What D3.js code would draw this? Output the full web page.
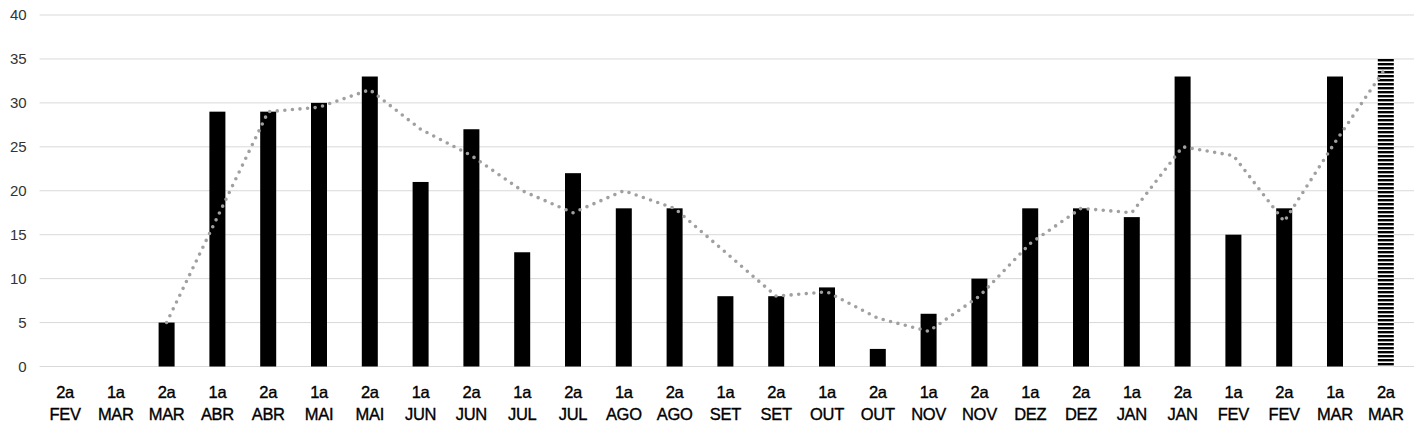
<!DOCTYPE html>
<html>
<head>
<meta charset="utf-8">
<script src="https://cdn.jsdelivr.net/npm/d3@7"></script>
<style>
  body { margin: 0; background: #fff; }
  svg { display: block; }
  .tick text { font-family: "Liberation Sans", Arial, sans-serif; }
</style>
</head>
<body>
<div id="chart"></div>
<script>
const halves = ['2a','1a','2a','1a','2a','1a','2a','1a','2a','1a','2a','1a','2a','1a','2a','1a','2a','1a','2a','1a','2a','1a','2a','1a','2a','1a','2a']
const months = ['FEV','MAR','MAR','ABR','ABR','MAI','MAI','JUN','JUN','JUL','JUL','AGO','AGO','SET','SET','OUT','OUT','NOV','NOV','DEZ','DEZ','JAN','JAN','FEV','FEV','MAR','MAR']
const values = [0,0,5,29,29,30,33,21,27,13,22,18,18,8,8,9,2,6,10,18,18,17,33,15,18,33,35]
const trend = [null,null,5,17,29,29.5,31.5,27,24,20,17.5,20,18,13,8,8.5,5.5,4,8,14,18,17.5,25,24,16.5,25.5,34]
const yTicks = [0,5,10,15,20,25,30,35,40]

const W = 1426, H = 433
const margin = { top: 15, right: 14, bottom: 66.5, left: 39.6 }
const width = W - margin.left - margin.right
const height = H - margin.top - margin.bottom

const svg = d3.select('#chart').append('svg')
    .attr('width', W)
    .attr('height', H)

const defs = svg.append('defs')
const pat = defs.append('pattern')
    .attr('id', 'hstripes')
    .attr('patternUnits', 'userSpaceOnUse')
    .attr('width', 8)
    .attr('height', 4)
pat.append('rect').attr('width', 8).attr('height', 4).attr('fill', '#fff')
pat.append('rect').attr('width', 8).attr('height', 2.4).attr('fill', '#000')

const g = svg.append('g')
    .attr('transform', `translate(${margin.left},${margin.top})`)

const idx = values.map((d, i) => i)
const x = d3.scaleBand().domain(idx).range([0, 50.8 * idx.length])
const y = d3.scaleLinear().domain([0, 40]).range([height, 0])

// grid
g.append('g')
    .selectAll('line')
    .data(yTicks)
    .enter()
    .append('line')
        .attr('x1', 0)
        .attr('x2', width + 2)
        .attr('y1', (d) => y(d))
        .attr('y2', (d) => y(d))
        .attr('stroke', '#d9d9d9')
        .attr('stroke-width', 1)

// y axis labels
const yAxis = g.append('g')
    .call(d3.axisLeft(y).tickValues(yTicks).tickSize(0).tickPadding(13))
yAxis.select('.domain').remove()
yAxis.selectAll('text')
    .attr('font-size', 15)
    .attr('fill', '#333')

// bars
const bw = 16
g.append('g')
    .selectAll('rect')
    .data(values)
    .enter()
    .append('rect')
        .attr('x', (d, i) => x(i) + x.bandwidth() / 2 - bw / 2)
        .attr('y', (d) => y(d))
        .attr('width', bw)
        .attr('height', (d) => y(0) - y(d))
        .attr('fill', (d, i) => i === values.length - 1 ? 'url(#hstripes)' : '#000')

// trend line
const line = d3.line()
    .defined((d) => d !== null)
    .x((d, i) => x(i) + x.bandwidth() / 2)
    .y((d) => y(d))

g.append('path')
    .datum(trend)
    .attr('d', line)
    .attr('fill', 'none')
    .attr('stroke', '#a0a0a0')
    .attr('stroke-width', 3.6)
    .attr('stroke-linecap', 'round')
    .attr('stroke-dasharray', '0,7.6')

// x axis labels, two lines
const xAxis = g.append('g')
    .attr('transform', `translate(0,${height})`)
    .call(d3.axisBottom(x).tickSize(0).tickFormat(() => ''))
xAxis.select('.domain').remove()
xAxis.selectAll('.tick text').remove()
const addRow = (rowY, labels) => {
    xAxis.selectAll('.tick')
    .append('text')
        .attr('y', rowY)
        .attr('text-anchor', 'middle')
        .attr('font-size', 16.5)
        .attr('letter-spacing', -0.3)
        .attr('fill', '#000')
        .attr('stroke', '#000')
        .attr('stroke-width', 0.35)
        .text((i) => labels[i])
}
addRow(31, halves)
addRow(53, months)
</script>
</body>
</html>
